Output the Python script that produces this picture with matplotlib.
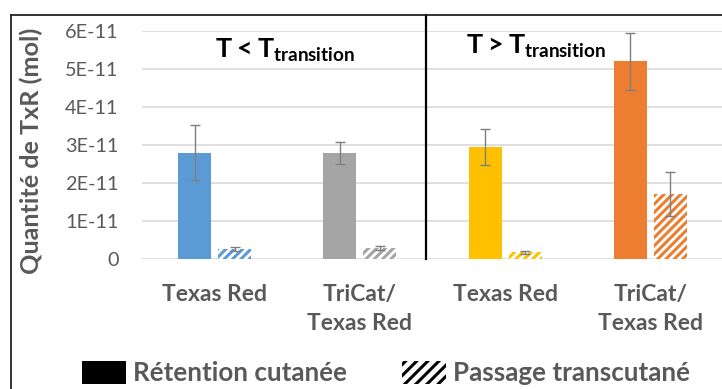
import numpy as np
import matplotlib
matplotlib.use('Agg')
import matplotlib.pyplot as plt
from matplotlib.patches import Patch
from matplotlib.lines import Line2D

# data (units: mol)
categories = ['Texas Red', 'TriCat/\nTexas Red', 'Texas Red', 'TriCat/\nTexas Red']
retention = [2.80e-11, 2.78e-11, 2.94e-11, 5.20e-11]
retention_err = [0.73e-11, 0.29e-11, 0.47e-11, 0.75e-11]
passage = [0.26e-11, 0.30e-11, 0.18e-11, 1.72e-11]
passage_err = [0.05e-11, 0.05e-11, 0.03e-11, 0.58e-11]
bar_colors = ['#5B9BD5', '#A5A5A5', '#FFC000', '#ED7D31']
yticks = [0, 1e-11, 2e-11, 3e-11, 4e-11, 5e-11, 6e-11]
ytick_labels = ['0', '1E-11', '2E-11', '3E-11', '4E-11', '5E-11', '6E-11']

plt.rcParams['font.family'] = ['Lato', 'DejaVu Sans']
plt.rcParams['mathtext.fontset'] = 'custom'
plt.rcParams['mathtext.rm'] = 'Lato'
plt.rcParams['mathtext.bf'] = 'Lato:bold'
plt.rcParams['hatch.linewidth'] = 2.2

txt = '#595959'
W, H = 722, 389
fig = plt.figure(figsize=(W / 100, H / 100), dpi=100)
ax = fig.add_axes([142 / W, 1 - 259.3 / H, 581 / W, (259.3 - 30.7) / H])

x = np.arange(len(categories))
bw = 0.227
off = 0.137

for i in range(len(categories)):
    ax.bar(x[i] - off, retention[i], bw, color=bar_colors[i], zorder=2)
    ax.bar(x[i] + off, passage[i], bw, facecolor='white', edgecolor=bar_colors[i],
           hatch='////', linewidth=0, zorder=2)

ekw = dict(fmt='none', ecolor='#7F7F7F', elinewidth=1, capsize=3.5, capthick=1, zorder=3)
ax.errorbar(x - off, retention, yerr=retention_err, **ekw)
ax.errorbar(x + off, passage, yerr=passage_err, **ekw)

ax.set_xlim(-0.5, len(categories) - 0.5)
ax.set_ylim(0, 6e-11)
ax.set_yticks(yticks)
ax.set_yticklabels(ytick_labels)
ax.set_xticks(x)
ax.set_xticklabels(categories, fontweight='bold', linespacing=1.48)
ax.tick_params(axis='y', length=0, pad=17, labelsize=14.3, labelcolor=txt)
ax.tick_params(axis='x', length=0, pad=17.5, labelsize=16.5, labelcolor=txt)
ax.grid(axis='y', color='#D9D9D9', linewidth=1.2, zorder=0)
for s in ax.spines.values():
    s.set_visible(False)

fig.text(31 / W, 1 - 151 / H, 'Quantité de TxR (mol)', rotation=90, ha='center',
         va='center', fontsize=18.2, fontweight='bold', color=txt)

# temperature regions
ax.text(0.485, 5.47e-11, r'$\mathbf{T < T_{transition}}$', ha='center', va='center',
        fontsize=19.4, color='black')
ax.text(2.21, 5.58e-11, r'$\mathbf{T > T_{transition}}$', ha='center', va='center',
        fontsize=19.4, color='black')

# separator + frame
ax.axvline(1.455, ymin=0, ymax=(259.3 - 15) / (259.3 - 30.7), color='black',
           linewidth=1.6, clip_on=False, zorder=4)
fig.add_artist(Line2D([10.5 / W, 10.5 / W], [0, 1 - 15 / H], color='#222222', linewidth=1.3))
fig.add_artist(Line2D([10.5 / W, 1], [1 - 15 / H, 1 - 15 / H], color='#222222', linewidth=1.3))

handles = [Patch(facecolor='black', edgecolor='black', linewidth=0),
           Patch(facecolor='white', edgecolor='black', hatch='///', linewidth=0)]
fig.legend(handles, ['Rétention cutanée', 'Passage transcutané'], loc='center',
           bbox_to_anchor=(386 / W, 1 - 373 / H), ncol=2, frameon=False,
           prop={'weight': 'bold', 'size': 18.7}, labelcolor=txt,
           handlelength=1.7, handleheight=1.0, handletextpad=0.27, columnspacing=2.1)

fig.savefig('out.png', dpi=100)
